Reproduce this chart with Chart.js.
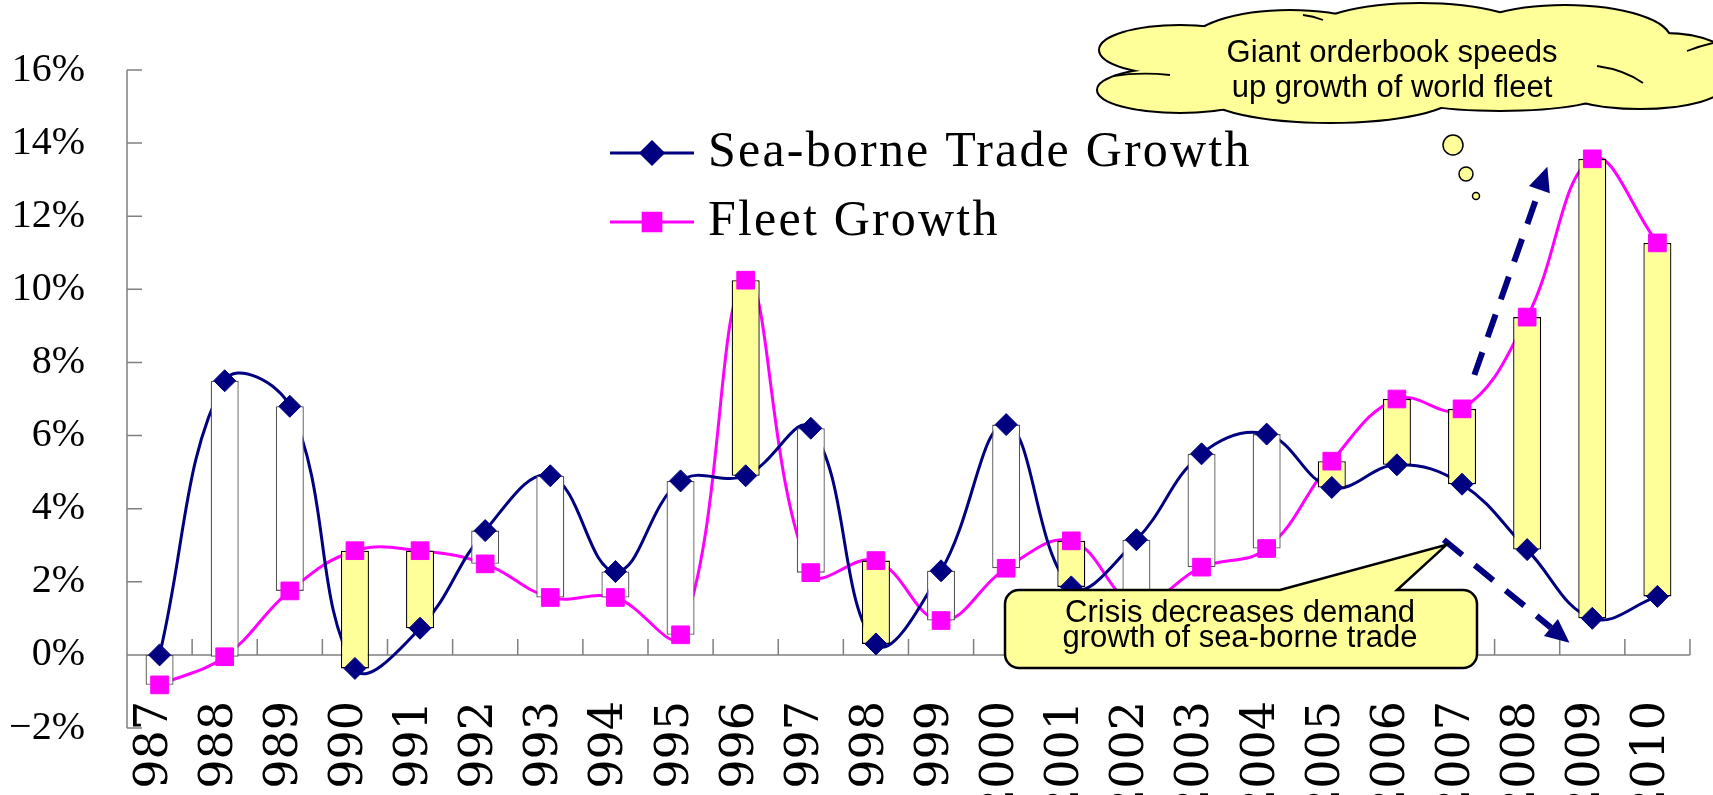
<!DOCTYPE html>
<html>
<head>
<meta charset="utf-8">
<script src="https://cdn.jsdelivr.net/npm/chart.js@4.4.1/dist/chart.umd.min.js"></script>
<style>
  html, body { margin: 0; padding: 0; background: #fff; }
  #wrap { width: 1713px; height: 795px; position: relative; }
</style>
</head>
<body>
<div id="wrap"><canvas id="grafico"></canvas></div>
<script>
// dados (em %)
const anos = ['1987', '1988', '1989', '1990', '1991', '1992', '1993', '1994', '1995', '1996', '1997', '1998',
              '1999', '2000', '2001', '2002', '2003', '2004', '2005', '2006', '2007', '2008', '2009', '2010'];
const seaborneTrade = [0.0, 7.5, 6.8, -0.37, 0.73, 3.4, 4.9, 2.28, 4.76, 4.9, 6.2, 0.3,
                       2.3, 6.3, 1.86, 3.15, 5.5, 6.04, 4.58, 5.2, 4.67, 2.88, 1.0, 1.6];
const fleetGrowth = [-0.82, -0.05, 1.75, 2.85, 2.85, 2.49, 1.57, 1.57, 0.55, 10.25, 2.25, 2.58,
                     0.94, 2.37, 3.12, 1.4, 2.4, 2.91, 5.3, 7.0, 6.73, 9.24, 13.57, 11.27];
const yTicks = [-2, 0, 2, 4, 6, 8, 10, 12, 14, 16];
const yTickLabels = ['\u22122%', '0%', '2%', '4%', '6%', '8%', '10%', '12%', '14%', '16%'];
const legendLabels = ['Sea-borne Trade Growth', 'Fleet Growth'];
const nuvemTexto = ['Giant orderbook speeds', 'up growth of world fleet'];
const caixaTexto = ['Crisis decreases demand', 'growth of sea-borne trade'];

const NAVY = '#000080';
const MAGENTA = '#FF00FF';
const AMARELO = '#FFFF99';

// barras flutuantes entre as duas series
const faixas = anos.map((_, i) => [Math.min(seaborneTrade[i], fleetGrowth[i]), Math.max(seaborneTrade[i], fleetGrowth[i])]);
const coresFaixa = anos.map((_, i) => fleetGrowth[i] > seaborneTrade[i] ? AMARELO : '#FFFFFF');
const bordasFaixa = anos.map((_, i) => fleetGrowth[i] > seaborneTrade[i] ? '#000000' : '#555555');

// os rotulos do eixo x comecam um pouco acima do fundo da area (como no Excel)
const rotulosXPlugin = {
    id: 'rotulosX',
    afterLayout(chart) {
        const sx = chart.scales.x;
        sx.top = chart.chartArea.bottom - 27;
    }
};

// eixos desenhados a mao (ticks para dentro)
const eixosPlugin = {
    id: 'eixos',
    beforeDatasetsDraw(chart) {
        const { ctx, chartArea, scales: { x, y } } = chart;
        ctx.save();
        ctx.strokeStyle = '#808080';
        ctx.lineWidth = 1.5;
        ctx.beginPath();
        ctx.moveTo(chartArea.left, y.getPixelForValue(yTicks[yTicks.length - 1]));
        ctx.lineTo(chartArea.left, y.getPixelForValue(yTicks[0]));
        yTicks.forEach(v => {
            const py = y.getPixelForValue(v);
            ctx.moveTo(chartArea.left, py);
            ctx.lineTo(chartArea.left + 15, py);
        });
        const y0 = y.getPixelForValue(0);
        ctx.moveTo(chartArea.left, y0);
        ctx.lineTo(chartArea.right, y0);
        for (let i = 0; i <= anos.length; i++) {
            const px = x.getPixelForValue(i - 0.5);
            ctx.moveTo(px, y0);
            ctx.lineTo(px, y0 - 16);
        }
        ctx.stroke();
        ctx.restore();
    }
};

const legendaPlugin = {
    id: 'legendaManual',
    afterDatasetsDraw(chart) {
        const ctx = chart.ctx;
        const itens = [
            { label: legendLabels[0], cor: NAVY, estilo: 'rectRot', raio: 11, y: 153 },
            { label: legendLabels[1], cor: MAGENTA, estilo: 'rect', raio: 12.5, y: 222 }
        ];
        ctx.save();
        itens.forEach(item => {
            ctx.strokeStyle = item.cor;
            ctx.fillStyle = item.cor;
            ctx.lineWidth = 3;
            ctx.beginPath();
            ctx.moveTo(610, item.y);
            ctx.lineTo(694, item.y);
            ctx.stroke();
            Chart.helpers.drawPoint(ctx, { pointStyle: item.estilo, radius: item.raio, borderWidth: 1 }, 652, item.y);
            ctx.fillStyle = '#000';
            ctx.font = '50px "Liberation Serif"';
            ctx.letterSpacing = '2.2px';
            ctx.textBaseline = 'middle';
            ctx.textAlign = 'left';
            ctx.fillText(item.label, 708, item.y);
        });
        ctx.restore();
    }
};

function setaTracejada(ctx, x1, y1, x2, y2) {
    const ang = Math.atan2(y2 - y1, x2 - x1);
    const comp = 24, meia = 11;
    const bx = x2 - comp * Math.cos(ang), by = y2 - comp * Math.sin(ang);
    ctx.save();
    ctx.strokeStyle = NAVY;
    ctx.fillStyle = NAVY;
    ctx.lineWidth = 6;
    ctx.setLineDash([24, 16]);
    ctx.beginPath();
    ctx.moveTo(x1, y1);
    ctx.lineTo(bx, by);
    ctx.stroke();
    ctx.setLineDash([]);
    ctx.beginPath();
    ctx.moveTo(x2, y2);
    ctx.lineTo(bx + meia * Math.sin(ang), by - meia * Math.cos(ang));
    ctx.lineTo(bx - meia * Math.sin(ang), by + meia * Math.cos(ang));
    ctx.closePath();
    ctx.fill();
    ctx.restore();
}

const anotacoesPlugin = {
    id: 'anotacoes',
    afterDraw(chart) {
        const { ctx, scales: { x, y } } = chart;

        // setas (ancoradas nas escalas)
        setaTracejada(ctx, x.getPixelForValue(19.72), y.getPixelForValue(3.15), x.getPixelForValue(21.65), y.getPixelForValue(0.33));
        setaTracejada(ctx, x.getPixelForValue(20.19), y.getPixelForValue(7.66), x.getPixelForValue(21.31), y.getPixelForValue(13.35));

        // caixa "Crisis..."
        const bx0 = 1005, by0 = 590, bx1 = 1477, by1 = 668, r = 14;
        const tipX = x.getPixelForValue(19.76), tipY = y.getPixelForValue(3.01);
        ctx.save();
        ctx.beginPath();
        ctx.moveTo(bx0 + r, by0);
        ctx.lineTo(1280, by0);
        ctx.lineTo(tipX, tipY);
        ctx.lineTo(1397, by0);
        ctx.lineTo(bx1 - r, by0);
        ctx.arcTo(bx1, by0, bx1, by0 + r, r);
        ctx.lineTo(bx1, by1 - r);
        ctx.arcTo(bx1, by1, bx1 - r, by1, r);
        ctx.lineTo(bx0 + r, by1);
        ctx.arcTo(bx0, by1, bx0, by1 - r, r);
        ctx.lineTo(bx0, by0 + r);
        ctx.arcTo(bx0, by0, bx0 + r, by0, r);
        ctx.closePath();
        ctx.fillStyle = AMARELO;
        ctx.fill();
        ctx.lineWidth = 2.5;
        ctx.strokeStyle = '#000';
        ctx.stroke();
        ctx.fillStyle = '#000';
        ctx.font = '31px "Liberation Sans"';
        ctx.textAlign = 'center';
        ctx.textBaseline = 'middle';
        ctx.fillText(caixaTexto[0], 1240, 613);
        ctx.fillText(caixaTexto[1], 1240, 638);
        ctx.restore();

        // nuvem
        const lobos = [
            [1400, 62, 260, 40], [1180, 50, 80, 24], [1180, 90, 82, 22], [1290, 45, 100, 34],
            [1420, 34, 110, 30], [1565, 40, 105, 34], [1665, 68, 72, 34], [1330, 94, 125, 28],
            [1500, 90, 110, 20], [1640, 84, 85, 24]
        ];
        ctx.save();
        ctx.strokeStyle = '#000';
        ctx.lineWidth = 4;
        lobos.forEach(([cx, cy, rx, ry]) => {
            ctx.beginPath();
            ctx.ellipse(cx, cy, rx, ry, 0, 0, Math.PI * 2);
            ctx.stroke();
        });
        ctx.fillStyle = AMARELO;
        lobos.forEach(([cx, cy, rx, ry]) => {
            ctx.beginPath();
            ctx.ellipse(cx, cy, rx, ry, 0, 0, Math.PI * 2);
            ctx.fill();
        });
        // vincos internos
        ctx.lineWidth = 1.8;
        ctx.beginPath();
        ctx.moveTo(1113, 76); ctx.quadraticCurveTo(1140, 72, 1170, 75);
        ctx.moveTo(1303, 15); ctx.quadraticCurveTo(1313, 16, 1323, 20);
        ctx.moveTo(1597, 66); ctx.quadraticCurveTo(1625, 70, 1643, 83);
        ctx.moveTo(1687, 51); ctx.quadraticCurveTo(1700, 46, 1713, 43);
        ctx.stroke();
        // bolhas
        [[1453, 145, 10], [1466, 174, 7], [1476, 196, 3.5]].forEach(([cx, cy, rr]) => {
            ctx.beginPath();
            ctx.arc(cx, cy, rr, 0, Math.PI * 2);
            ctx.fillStyle = AMARELO;
            ctx.fill();
            ctx.lineWidth = 1.5;
            ctx.stroke();
        });
        ctx.fillStyle = '#000';
        ctx.font = '31px "Liberation Sans"';
        ctx.textAlign = 'center';
        ctx.textBaseline = 'middle';
        ctx.fillText(nuvemTexto[0], 1392, 53);
        ctx.fillText(nuvemTexto[1], 1392, 88);
        ctx.restore();
    }
};

const ctx = document.getElementById('grafico').getContext('2d');

new Chart(ctx, {
    type: 'bar',
    data: {
        labels: anos,
        datasets: [
            {
                type: 'line',
                label: legendLabels[0] + ' (pontos)',
                data: seaborneTrade,
                showLine: false,
                pointStyle: 'rectRot',
                pointRadius: 11,
                pointBackgroundColor: NAVY,
                pointBorderColor: NAVY,
                pointBorderWidth: 1,
                order: 0
            },
            {
                type: 'line',
                label: legendLabels[1] + ' (pontos)',
                data: fleetGrowth,
                showLine: false,
                pointStyle: 'rect',
                pointRadius: 12.5,
                pointBackgroundColor: MAGENTA,
                pointBorderColor: MAGENTA,
                pointBorderWidth: 1,
                order: 0
            },
            {
                label: 'Faixa',
                data: faixas,
                backgroundColor: coresFaixa,
                borderColor: bordasFaixa,
                borderWidth: 1.3,
                borderSkipped: false,
                barPercentage: 0.43,
                categoryPercentage: 1,
                order: 1
            },
            {
                type: 'line',
                label: legendLabels[0],
                data: seaborneTrade,
                borderColor: NAVY,
                borderWidth: 3,
                pointRadius: 0,
                tension: 0.4,
                fill: false,
                order: 2
            },
            {
                type: 'line',
                label: legendLabels[1],
                data: fleetGrowth,
                borderColor: MAGENTA,
                borderWidth: 3,
                pointRadius: 0,
                tension: 0.4,
                fill: false,
                order: 2
            }
        ]
    },
    options: {
        responsive: true,
        maintainAspectRatio: false,
        animation: false,
        events: [],
        layout: { padding: { top: 70, right: 19, left: 0, bottom: 0 } },
        plugins: {
            legend: { display: false },
            tooltip: { enabled: false }
        },
        scales: {
            x: {
                offset: true,
                grid: { display: false, drawTicks: false },
                border: { display: false },
                ticks: {
                    color: '#000',
                    font: { family: 'DejaVu Serif', size: 46 },
                    minRotation: 90,
                    maxRotation: 90,
                    autoSkip: false,
                    padding: 0,
                    labelOffset: -5
                },
                afterFit: (scale) => { scale.height = 67; }
            },
            y: {
                min: -2,
                max: 16,
                grid: { display: false, drawTicks: false },
                border: { display: false },
                ticks: {
                    stepSize: 2,
                    color: '#000',
                    font: { family: 'Liberation Serif', size: 40 },
                    padding: 42,
                    callback: function(value) {
                        const idx = yTicks.indexOf(value);
                        return idx >= 0 ? yTickLabels[idx] : '';
                    }
                },
                afterFit: (scale) => { scale.width = 127; }
            }
        }
    },
    plugins: [rotulosXPlugin, eixosPlugin, legendaPlugin, anotacoesPlugin]
});
</script>
</body>
</html>
